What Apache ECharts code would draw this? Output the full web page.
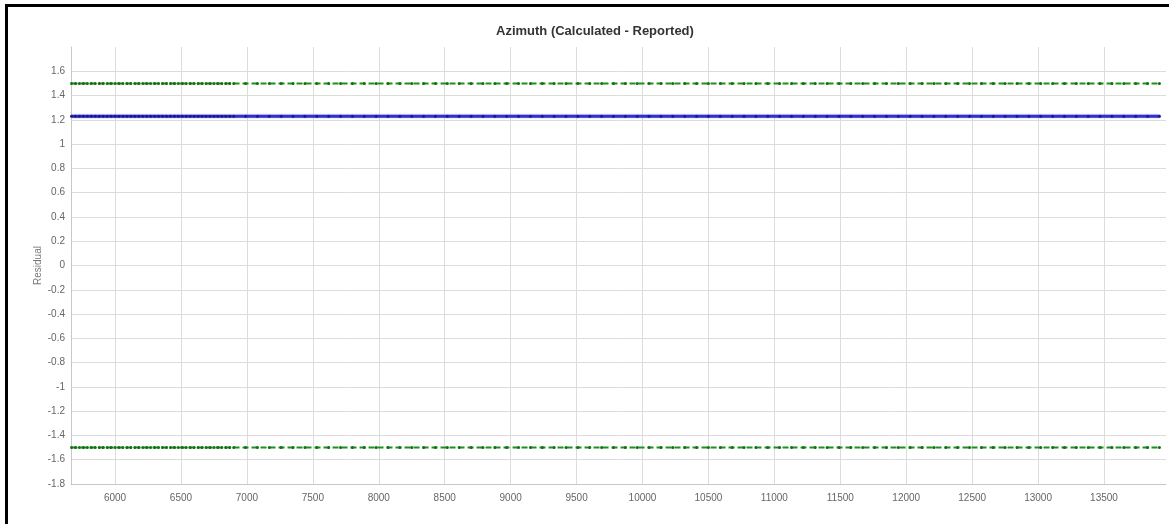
<!DOCTYPE html>
<html>
<head>
<meta charset="utf-8">
<script src="https://cdn.jsdelivr.net/npm/echarts@6/dist/echarts.min.js"></script>
<style>
  html, body { margin: 0; padding: 0; background: #fff; }
  #frame { position: absolute; left: 5px; top: 4px; width: 1164px; height: 520px; border-left: 3px solid #000; border-top: 3px solid #000; box-sizing: border-box; }
  #chart { position: absolute; left: 0; top: 0; width: 1169px; height: 524px; }
</style>
</head>
<body>
<div id="frame"></div>
<div id="chart"></div>
<script>
const chartTitle = 'Azimuth (Calculated - Reported)';
const yAxisName = 'Residual';

// Measured depths of survey stations
const depths = [
  5670, 5700, 5730, 5760, 5790, 5820, 5850, 5880, 5910, 5940,
  5970, 6000, 6030, 6060, 6090, 6120, 6150, 6180, 6210, 6240,
  6270, 6300, 6330, 6360, 6390, 6420, 6450, 6480, 6510, 6540,
  6570, 6600, 6630, 6660, 6690, 6720, 6750, 6780, 6810, 6840,
  6870, 6900, 6990, 7080, 7170, 7260, 7350, 7440, 7530, 7620,
  7710, 7800, 7890, 7980, 8070, 8160, 8250, 8340, 8430, 8520,
  8610, 8700, 8790, 8880, 8970, 9060, 9150, 9240, 9330, 9420,
  9510, 9600, 9690, 9780, 9870, 9960, 10050, 10140, 10230, 10320,
  10410, 10500, 10590, 10680, 10770, 10860, 10950, 11040, 11130, 11220,
  11310, 11400, 11490, 11580, 11670, 11760, 11850, 11940, 12030, 12120,
  12210, 12300, 12390, 12480, 12570, 12660, 12750, 12840, 12930, 13020,
  13110, 13200, 13290, 13380, 13470, 13560, 13650, 13740, 13830, 13920
];

// Azimuth residual at each station
const residuals = [
  1.23, 1.23, 1.23, 1.23, 1.23, 1.23, 1.23, 1.23, 1.23, 1.23,
  1.23, 1.23, 1.23, 1.23, 1.23, 1.23, 1.23, 1.23, 1.23, 1.23,
  1.23, 1.23, 1.23, 1.23, 1.23, 1.23, 1.23, 1.23, 1.23, 1.23,
  1.23, 1.23, 1.23, 1.23, 1.23, 1.23, 1.23, 1.23, 1.23, 1.23,
  1.23, 1.23, 1.23, 1.23, 1.23, 1.23, 1.23, 1.23, 1.23, 1.23,
  1.23, 1.23, 1.23, 1.23, 1.23, 1.23, 1.23, 1.23, 1.23, 1.23,
  1.23, 1.23, 1.23, 1.23, 1.23, 1.23, 1.23, 1.23, 1.23, 1.23,
  1.23, 1.23, 1.23, 1.23, 1.23, 1.23, 1.23, 1.23, 1.23, 1.23,
  1.23, 1.23, 1.23, 1.23, 1.23, 1.23, 1.23, 1.23, 1.23, 1.23,
  1.23, 1.23, 1.23, 1.23, 1.23, 1.23, 1.23, 1.23, 1.23, 1.23,
  1.23, 1.23, 1.23, 1.23, 1.23, 1.23, 1.23, 1.23, 1.23, 1.23,
  1.23, 1.23, 1.23, 1.23, 1.23, 1.23, 1.23, 1.23, 1.23, 1.23
];

// Tolerance limits
const upperLimit = 1.5;
const lowerLimit = -1.5;

const xMin = 5666, xMax = 13970;
const yMin = -1.8, yMax = 1.8;

const chart = echarts.init(document.getElementById('chart'), null, { renderer: 'canvas' });

const fontFamily = '"Liberation Sans", Arial, sans-serif';

chart.setOption({
  animation: false,
  backgroundColor: 'transparent',
  title: {
    text: chartTitle,
    left: 491,
    top: 20,
    textStyle: { fontFamily, fontSize: 13, fontWeight: 'bold', color: '#333' }
  },
  grid: { left: 71, right: 3, top: 47, bottom: 40, containLabel: false },
  xAxis: {
    type: 'value',
    min: xMin,
    max: xMax,
    minInterval: 500,
    maxInterval: 500,
    axisLine: { show: true, onZero: false, lineStyle: { color: '#c8c8c8', width: 1 } },
    axisTick: { show: false },
    axisLabel: {
      showMinLabel: false, showMaxLabel: false, color: '#666', fontFamily, fontSize: 10, margin: 9,
      formatter: v => String(v)
    },
    splitLine: { show: true, showMinLine: false, showMaxLine: false, lineStyle: { color: '#dcdcdc', width: 1 } }
  },
  yAxis: {
    type: 'value',
    min: yMin,
    max: yMax,
    interval: 0.2,
    name: yAxisName,
    nameLocation: 'middle',
    nameGap: 28,
    nameMoveOverlap: false,
    nameTextStyle: { color: '#777', fontFamily, fontSize: 10 },
    axisLine: { show: true, onZero: false, lineStyle: { color: '#c8c8c8', width: 1 } },
    axisTick: { show: false },
    axisLabel: {
      showMaxLabel: false,
      color: '#666', fontFamily, fontSize: 10, margin: 6,
      formatter: v => String(Math.round(v * 10) / 10)
    },
    splitLine: { show: true, showMaxLine: false, lineStyle: { color: '#dcdcdc', width: 1 } }
  },
  series: [
    {
      name: 'Upper limit',
      type: 'line',
      data: depths.map(d => [d, upperLimit]),
      symbol: 'circle',
      symbolSize: 3,
      itemStyle: { color: '#146e14' },
      lineStyle: { color: '#1f8f1f', width: 2, type: [6, 3] }
    },
    {
      name: 'Lower limit',
      type: 'line',
      data: depths.map(d => [d, lowerLimit]),
      symbol: 'circle',
      symbolSize: 3,
      itemStyle: { color: '#146e14' },
      lineStyle: { color: '#1f8f1f', width: 2, type: [6, 3] }
    },
    {
      name: 'Residual',
      type: 'line',
      data: depths.map((d, i) => [d, residuals[i]]),
      symbol: 'circle',
      symbolSize: 3,
      itemStyle: { color: '#1a1a8c' },
      lineStyle: { color: '#3030cc', width: 3, shadowColor: 'rgba(80,80,230,0.5)', shadowBlur: 2 }
    }
  ]
});
</script>
</body>
</html>
